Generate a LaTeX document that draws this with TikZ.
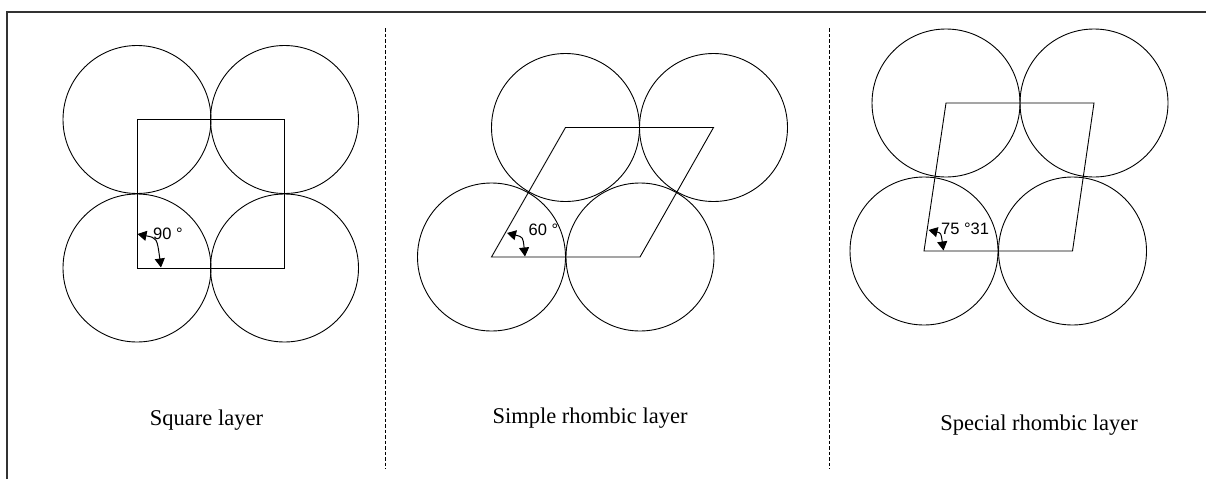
\documentclass[tikz,border=0pt]{standalone}
\usepackage{fontspec}
\setmainfont{Liberation Serif}
\newfontfamily\arialfont{Liberation Sans}
\usetikzlibrary{arrows.meta}
\tikzset{
  ball/.style={draw, circle, minimum size=148pt, inner sep=0pt, line width=0.9pt},
  cell/.style={draw, line width=0.9pt},
  sep/.style={draw, line width=0.8pt, dash pattern=on 3.5pt off 2pt},
  frame/.style={draw, line width=1.2pt, black!80},
  anglearrow/.style={draw, line width=1pt, {Triangle[length=9pt,width=10pt]}-{Triangle[length=9pt,width=10pt]}},
  anglelbl/.style={anchor=west, inner sep=0pt, font=\arialfont\fontsize{16.5}{18}\selectfont},
  caption/.style={inner sep=0pt, font=\fontsize{22.5}{26}\selectfont}
}
\begin{document}
\begin{tikzpicture}[x=1pt,y=-1pt]
\useasboundingbox (0,0) rectangle (1206,479);
% frame
\coordinate (fbl) at (7,479);
\coordinate (ftl) at (7,12);
\coordinate (ftr) at (1206,12);
\draw[frame] (fbl) -- (ftl) -- (ftr);
% separators
\coordinate (s1t) at (385.5,28);
\coordinate (s1b) at (385.5,469);
\coordinate (s2t) at (829,28);
\coordinate (s2b) at (829,469);
\draw[sep] (s1t) -- (s1b);
\draw[sep] (s2t) -- (s2b);

% ---------- panel 1: square layer
\coordinate (a1) at (137,268);
\coordinate (b1) at (284.5,268);
\coordinate (c1) at (284.5,119.5);
\coordinate (d1) at (137,119.5);
\node[ball] (p1) at (a1) {};
\node[ball] (p2) at (b1) {};
\node[ball] (p3) at (c1) {};
\node[ball] (p4) at (d1) {};
\draw[cell] (a1) -- (b1) -- (c1) -- (d1) -- cycle;
\coordinate (x1a) at (137.5,234);
\coordinate (x1b) at (161,267.5);
\draw[anglearrow] (x1a) .. controls (157,238) .. (x1b);
\node[anglelbl] (l1) at (153,234) {90 °};
\node[caption] (t1) at (206.5,420) {Square layer};

% ---------- panel 2: simple rhombic layer
\coordinate (a2) at (491.5,257);
\coordinate (b2) at (640,257);
\coordinate (c2) at (713.5,127.5);
\coordinate (d2) at (565.5,127.5);
\node[ball] (q1) at (a2) {};
\node[ball] (q2) at (b2) {};
\node[ball] (q3) at (c2) {};
\node[ball] (q4) at (d2) {};
\draw[cell] (a2) -- (b2) -- (c2) -- (d2) -- cycle;
\coordinate (x2a) at (507,233);
\coordinate (x2b) at (525,256.5);
\draw[anglearrow] (x2a) .. controls (523,237) .. (x2b);
\node[anglelbl] (l2) at (528.5,230) {60 °};
\node[caption] (t2) at (590,418) {Simple rhombic layer};

% ---------- panel 3: special rhombic layer
\coordinate (a3) at (924,251);
\coordinate (b3) at (1072.5,251);
\coordinate (c3) at (1094,103);
\coordinate (d3) at (946,103);
\node[ball] (r1) at (a3) {};
\node[ball] (r2) at (b3) {};
\node[ball] (r3) at (c3) {};
\node[ball] (r4) at (d3) {};
\draw[cell] (a3) -- (b3) -- (c3) -- (d3) -- cycle;
\coordinate (x3a) at (928.5,230);
\coordinate (x3b) at (943.5,250.5);
\draw[anglearrow] (x3a) .. controls (941,233) .. (x3b);
\node[anglelbl] (l3) at (941,229) {75 °31};
\node[caption] (t3) at (1039,425) {Special rhombic layer};
\end{tikzpicture}
\end{document}
